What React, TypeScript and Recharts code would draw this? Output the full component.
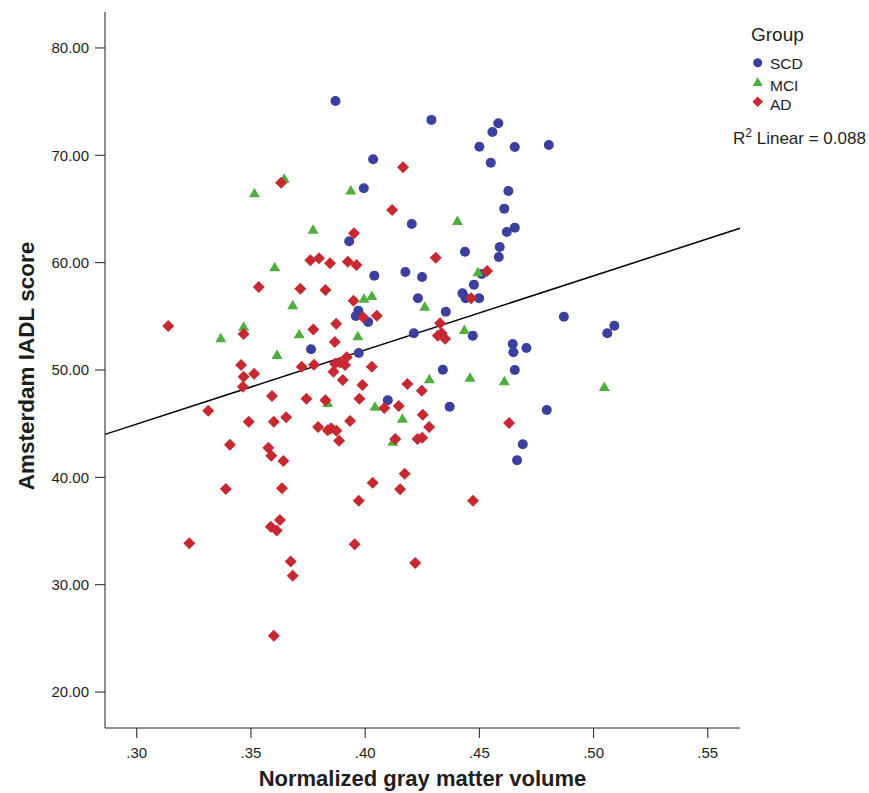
import { ScatterChart, Scatter, XAxis, YAxis, ReferenceLine } from "recharts";

// [normalized gray matter volume, Amsterdam IADL score]
const scd: [number, number][] = [
  [0.387, 75.06], [0.429, 73.3], [0.4035, 69.63], [0.3994, 66.93], [0.4204, 63.6],
  [0.393, 61.99], [0.404, 58.79], [0.4176, 59.13], [0.4249, 58.66], [0.4231, 56.68],
  [0.4426, 57.14], [0.444, 56.68], [0.4353, 55.43], [0.397, 55.53], [0.3959, 55.03],
  [0.4013, 54.47], [0.4213, 53.42], [0.3763, 51.93], [0.3972, 51.58], [0.4437, 61.02],
  [0.451, 58.94], [0.4476, 57.95], [0.4499, 56.68], [0.4471, 53.2], [0.4583, 72.98],
  [0.4557, 72.17], [0.45, 70.8], [0.4655, 70.78], [0.4804, 70.96], [0.455, 69.31],
  [0.4627, 66.68], [0.4609, 65.03], [0.4655, 63.26], [0.462, 62.86], [0.4589, 61.46],
  [0.4585, 60.53], [0.487, 54.97], [0.5091, 54.13], [0.506, 53.42], [0.4646, 52.42],
  [0.4649, 51.65], [0.4706, 52.05], [0.434, 50.03], [0.4655, 50.0], [0.437, 46.58],
  [0.4795, 46.27], [0.469, 43.08], [0.4665, 41.59], [0.4099, 47.18],
];

const mci: [number, number][] = [
  [0.3646, 67.82], [0.3515, 66.46], [0.3937, 66.71], [0.3772, 63.07], [0.4404, 63.88],
  [0.3604, 59.57], [0.3995, 56.64], [0.4029, 56.89], [0.3683, 56.03], [0.4261, 55.9],
  [0.4434, 53.72], [0.3711, 53.32], [0.3968, 53.14], [0.3468, 54.03], [0.3368, 52.95],
  [0.3614, 51.4], [0.4494, 59.1], [0.4281, 49.13], [0.4459, 49.28], [0.4609, 48.95],
  [0.5047, 48.41], [0.4043, 46.58], [0.4163, 45.46], [0.3836, 46.92], [0.4121, 43.32],
];

const ad: [number, number][] = [
  [0.4166, 68.88], [0.3632, 67.45], [0.4118, 64.91], [0.3951, 62.73], [0.376, 60.22],
  [0.3798, 60.4], [0.3846, 59.94], [0.3924, 60.09], [0.3962, 59.78], [0.3534, 57.73],
  [0.3716, 57.57], [0.3826, 57.45], [0.4309, 60.46], [0.4534, 59.22], [0.4464, 56.68],
  [0.3949, 56.46], [0.3991, 54.91], [0.4051, 55.06], [0.3873, 54.31], [0.3773, 53.78],
  [0.4328, 54.35], [0.3867, 52.61], [0.4318, 53.2], [0.4335, 53.42], [0.435, 52.92],
  [0.3138, 54.1], [0.3468, 53.35], [0.3457, 50.47], [0.3514, 49.65], [0.3468, 49.38],
  [0.3465, 48.44], [0.3592, 47.58], [0.3313, 46.21], [0.349, 45.18], [0.36, 45.18],
  [0.3654, 45.59], [0.3408, 43.04], [0.3576, 42.76], [0.3589, 42.01], [0.3642, 41.52],
  [0.339, 38.91], [0.3636, 38.98], [0.3627, 36.02], [0.3587, 35.4], [0.3613, 35.06],
  [0.323, 33.85], [0.3674, 32.17], [0.3683, 30.83], [0.36, 25.24], [0.4033, 39.5],
  [0.4153, 38.88], [0.3972, 37.82], [0.4472, 37.82], [0.3954, 33.76], [0.4219, 32.02],
  [0.4173, 40.34], [0.3722, 50.31], [0.3776, 50.49], [0.3868, 50.58], [0.389, 50.71],
  [0.3912, 50.46], [0.3919, 51.18], [0.3861, 49.84], [0.3902, 49.07], [0.4029, 50.31],
  [0.3988, 48.6], [0.3743, 47.32], [0.3826, 47.18], [0.3975, 47.32], [0.4185, 48.7],
  [0.4248, 48.07], [0.4084, 46.46], [0.4147, 46.64], [0.4252, 45.84], [0.428, 44.69],
  [0.463, 45.06], [0.425, 43.69], [0.3794, 44.69], [0.3836, 44.38], [0.3851, 44.57],
  [0.3874, 44.34], [0.3886, 43.41], [0.3934, 45.25], [0.4132, 43.57], [0.4229, 43.57],
];

const xTicks = [0.3, 0.35, 0.4, 0.45, 0.5, 0.55];
const yTicks = [20, 30, 40, 50, 60, 70, 80];
const xDomain: [number, number] = [0.2861, 0.5641];
const yDomain: [number, number] = [16.65, 83.35];

// fit line ends, at the plot edges
const fitLine = [
  { x: 0.2861, y: 44.0 },
  { x: 0.5641, y: 63.2 },
];
const r2 = "0.088";

const BLUE = "#3b3f9e";
const GREEN = "#4fae3e";
const RED = "#c8282f";
const INK = "#1e1e1e";
const FONT = "'Liberation Sans', Arial, sans-serif";

const toPts = (d: [number, number][]) => d.map(([x, y]) => ({ x, y }));

const Dot = (p: any) => <circle cx={p.cx} cy={p.cy} r={5} fill={BLUE} />;
const Tri = (p: any) => (
  <polygon
    points={`${p.cx},${p.cy - 5.5} ${p.cx + 5.5},${p.cy + 4} ${p.cx - 5.5},${p.cy + 4}`}
    fill={GREEN}
  />
);
const Dia = (p: any) => (
  <polygon
    points={`${p.cx},${p.cy - 6} ${p.cx + 6},${p.cy} ${p.cx},${p.cy + 6} ${p.cx - 6},${p.cy}`}
    fill={RED}
  />
);

const tickStyle = { fill: INK, fontSize: 15, fontFamily: FONT };

export default function App() {
  return (
    <div style={{ position: "absolute", left: 0, top: 0, width: 869, height: 793, background: "#fff" }}>
      <ScatterChart
        width={869}
        height={793}
        margin={{ top: 12, right: 129, left: 0, bottom: 0 }}
      >
        <XAxis
          type="number"
          dataKey="x"
          domain={xDomain}
          ticks={xTicks}
          allowDataOverflow
          height={65}
          tickSize={10}
          tickMargin={9}
          tickFormatter={v => v.toFixed(2).replace(/^0/, "")}
          tick={tickStyle}
          stroke={INK}
        />
        <YAxis
          type="number"
          dataKey="y"
          domain={yDomain}
          ticks={yTicks}
          allowDataOverflow
          width={105}
          tickSize={10}
          tickMargin={6}
          tickFormatter={v => v.toFixed(2)}
          tick={tickStyle}
          stroke={INK}
        />
        <Scatter data={toPts(scd)} shape={Dot} isAnimationActive={false} />
        <Scatter data={toPts(mci)} shape={Tri} isAnimationActive={false} />
        <Scatter data={toPts(ad)} shape={Dia} isAnimationActive={false} />
        <ReferenceLine segment={fitLine} stroke="#000" strokeWidth={1.5} ifOverflow="visible" />
      </ScatterChart>

      <svg
        width={869}
        height={793}
        style={{ position: "absolute", left: 0, top: 0, pointerEvents: "none" }}
        fontFamily={FONT}
      >
        <text
          transform="translate(34,366) rotate(-90)"
          textAnchor="middle"
          fontSize={22.5}
          fontWeight="bold"
          fill={INK}
        >
          Amsterdam IADL score
        </text>
        <text x={422.5} y={786} textAnchor="middle" fontSize={22} fontWeight="bold" fill={INK}>
          Normalized gray matter volume
        </text>

        <text x={751} y={41} fontSize={19} fill={INK}>Group</text>
        <circle cx={757.7} cy={62.7} r={4.5} fill={BLUE} />
        <text x={770} y={69} fontSize={15.5} fill={INK}>SCD</text>
        <polygon points="757.7,77 762.7,86 752.7,86" fill={GREEN} />
        <text x={770} y={90.5} fontSize={15.5} fill={INK}>MCI</text>
        <polygon points="757.7,96.5 763,101.7 757.7,107 752.4,101.7" fill={RED} />
        <text x={770} y={110} fontSize={15.5} fill={INK}>AD</text>

        <text x={733} y={144} fontSize={17} fill={INK}>
          R<tspan dy={-7} fontSize={12}>2</tspan>
          <tspan dy={7}> Linear = {r2}</tspan>
        </text>
      </svg>
    </div>
  );
}
